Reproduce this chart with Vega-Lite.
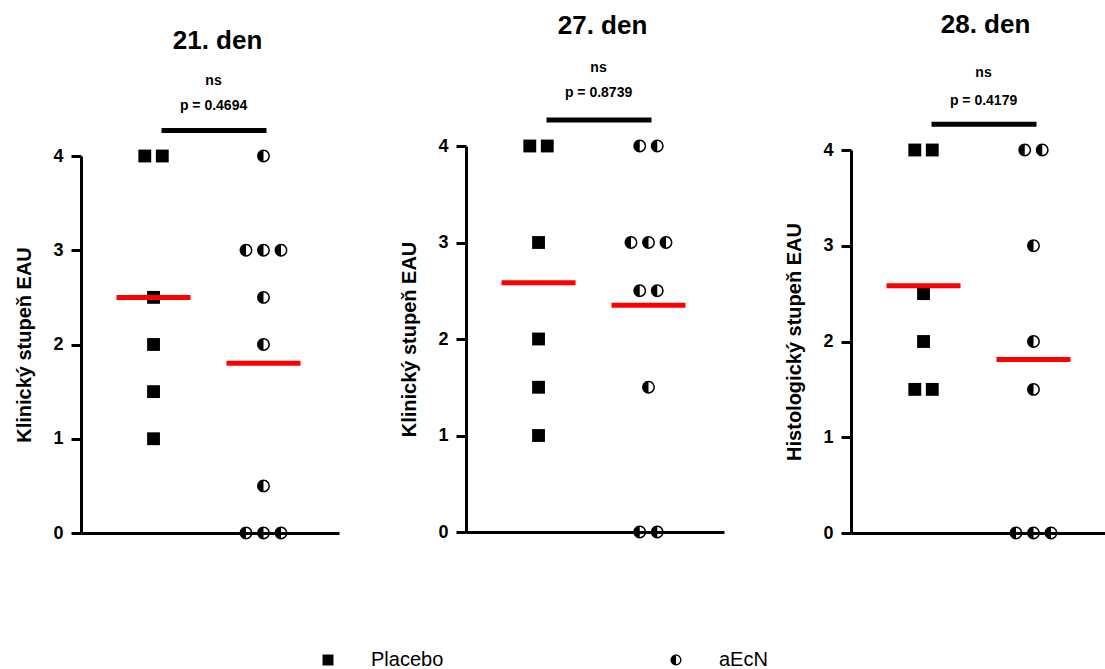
{
  "$schema": "https://vega.github.io/schema/vega-lite/v6.json",
  "background": "white",
  "padding": {"left": 14, "top": 11, "right": 0, "bottom": 0},
  "config": {
    "font": "Liberation Sans",
    "view": {"stroke": null},
    "axisY": {"domainColor": "black", "domainWidth": 3, "tickColor": "black", "tickWidth": 3, "tickSize": 10, "labelPadding": 8, "labelFontSize": 18, "labelFontWeight": "bold", "labelColor": "black", "labelFont": "Liberation Sans", "titleFontSize": 20, "titleFontWeight": "bold", "titleColor": "black", "titleFont": "Liberation Sans", "titlePadding": 18, "grid": false, "format": "d"},
    "axisX": {"domainColor": "black", "domainWidth": 3, "ticks": false, "labels": false, "title": null, "grid": false},
    "legend": {"labelFont": "Liberation Sans", "labelFontSize": 20, "labelColor": "black", "symbolSize": 120, "symbolFillColor": "black", "symbolStrokeWidth": 0, "symbolOpacity": 1, "labelOffset": 33, "columnPadding": 222, "padding": 0}
  },
  "datasets": {
    "pts": [
      {"day": "21", "group": "Placebo", "score": 4, "slot": "L1"},
      {"day": "21", "group": "Placebo", "score": 4, "slot": "R1"},
      {"day": "21", "group": "Placebo", "score": 2.5, "slot": "C"},
      {"day": "21", "group": "Placebo", "score": 2, "slot": "C"},
      {"day": "21", "group": "Placebo", "score": 1.5, "slot": "C"},
      {"day": "21", "group": "Placebo", "score": 1, "slot": "C"},
      {"day": "21", "group": "aEcN", "score": 4, "slot": "C"},
      {"day": "21", "group": "aEcN", "score": 3, "slot": "L2"},
      {"day": "21", "group": "aEcN", "score": 3, "slot": "C"},
      {"day": "21", "group": "aEcN", "score": 3, "slot": "R2"},
      {"day": "21", "group": "aEcN", "score": 2.5, "slot": "C"},
      {"day": "21", "group": "aEcN", "score": 2, "slot": "C"},
      {"day": "21", "group": "aEcN", "score": 0.5, "slot": "C"},
      {"day": "21", "group": "aEcN", "score": 0, "slot": "L2"},
      {"day": "21", "group": "aEcN", "score": 0, "slot": "C"},
      {"day": "21", "group": "aEcN", "score": 0, "slot": "R2"},
      {"day": "27", "group": "Placebo", "score": 4, "slot": "L1"},
      {"day": "27", "group": "Placebo", "score": 4, "slot": "R1"},
      {"day": "27", "group": "Placebo", "score": 3, "slot": "C"},
      {"day": "27", "group": "Placebo", "score": 2, "slot": "C"},
      {"day": "27", "group": "Placebo", "score": 1.5, "slot": "C"},
      {"day": "27", "group": "Placebo", "score": 1, "slot": "C"},
      {"day": "27", "group": "aEcN", "score": 4, "slot": "L1"},
      {"day": "27", "group": "aEcN", "score": 4, "slot": "R1"},
      {"day": "27", "group": "aEcN", "score": 3, "slot": "L2"},
      {"day": "27", "group": "aEcN", "score": 3, "slot": "C"},
      {"day": "27", "group": "aEcN", "score": 3, "slot": "R2"},
      {"day": "27", "group": "aEcN", "score": 2.5, "slot": "L1"},
      {"day": "27", "group": "aEcN", "score": 2.5, "slot": "R1"},
      {"day": "27", "group": "aEcN", "score": 1.5, "slot": "C"},
      {"day": "27", "group": "aEcN", "score": 0, "slot": "L1"},
      {"day": "27", "group": "aEcN", "score": 0, "slot": "R1"},
      {"day": "28", "group": "Placebo", "score": 4, "slot": "L1"},
      {"day": "28", "group": "Placebo", "score": 4, "slot": "R1"},
      {"day": "28", "group": "Placebo", "score": 2.5, "slot": "C"},
      {"day": "28", "group": "Placebo", "score": 2, "slot": "C"},
      {"day": "28", "group": "Placebo", "score": 1.5, "slot": "L1"},
      {"day": "28", "group": "Placebo", "score": 1.5, "slot": "R1"},
      {"day": "28", "group": "aEcN", "score": 4, "slot": "L1"},
      {"day": "28", "group": "aEcN", "score": 4, "slot": "R1"},
      {"day": "28", "group": "aEcN", "score": 3, "slot": "C"},
      {"day": "28", "group": "aEcN", "score": 2, "slot": "C"},
      {"day": "28", "group": "aEcN", "score": 1.5, "slot": "C"},
      {"day": "28", "group": "aEcN", "score": 0, "slot": "L2"},
      {"day": "28", "group": "aEcN", "score": 0, "slot": "C"},
      {"day": "28", "group": "aEcN", "score": 0, "slot": "R2"}
    ],
    "notes": [
      {"day": "21", "title": "21. den", "sig": "ns", "p": "p = 0.4694"},
      {"day": "27", "title": "27. den", "sig": "ns", "p": "p = 0.8739"},
      {"day": "28", "title": "28. den", "sig": "ns", "p": "p = 0.4179"}
    ]
  },
  "spacing": 60,
  "resolve": {"scale": {"x": "independent", "y": "independent", "xOffset": "independent", "shape": "shared"}, "legend": {"shape": "shared"}},
  "hconcat": [
    {
      "width": 258, "height": 400,
      "encoding": {"x": {"field": "group", "type": "nominal", "scale": {"type": "point", "domain": ["Placebo", "aEcN"], "padding": 0.673, "align": 0.49}}},
      "layer": [
        {"data": {"name": "pts"}, "transform": [{"filter": "datum.day === '21'"}],
         "mark": {"type": "point", "filled": true, "fill": "black", "opacity": 1, "size": 165, "strokeWidth": 0},
         "encoding": {
           "y": {"field": "score", "type": "quantitative", "scale": {"domain": [0, 4], "range": [400, 23], "nice": false}, "axis": {"title": "Klinický stupeň EAU", "values": [0, 1, 2, 3, 4]}},
           "xOffset": {"field": "slot", "type": "nominal", "scale": {"type": "point", "domain": ["L2", "L1", "C", "R1", "R2"], "range": [-17.5, 17.5], "padding": 0}},
           "shape": {"field": "group", "type": "nominal", "scale": {"domain": ["Placebo", "aEcN"], "range": ["square", "M1,0A1,1,0,1,1,-1,0A1,1,0,1,1,1,0ZM0.76,0A0.76,0.76,0,1,0,-0.76,0A0.76,0.76,0,1,0,0.76,0ZM0,1A1,1,0,0,1,0,-1Z"]},
             "legend": {"title": null, "orient": "none", "legendX": 237, "legendY": 517, "direction": "horizontal"}}
         }},
        {"data": {"name": "pts"}, "transform": [{"filter": "datum.day === '21'"}],
         "mark": {"type": "tick", "color": "#ff0000", "thickness": 5, "size": 74, "opacity": 1},
         "encoding": {"y": {"aggregate": "mean", "field": "score", "type": "quantitative"}}},
        {"data": {"name": "notes"}, "transform": [{"filter": "datum.day === '21'"}],
         "mark": {"type": "rule", "color": "black", "strokeWidth": 5, "xOffset": 8, "x2Offset": 3},
         "encoding": {"x": {"datum": "Placebo"}, "x2": {"datum": "aEcN"}, "y": {"datum": 4.27}}},
        {"data": {"name": "notes"}, "transform": [{"filter": "datum.day === '21'"}],
         "mark": {"type": "text", "fontSize": 14, "fontWeight": "bold", "color": "black", "dx": 60, "baseline": "middle"},
         "encoding": {"x": {"datum": "Placebo"}, "y": {"datum": 4.53}, "text": {"field": "p"}}},
        {"data": {"name": "notes"}, "transform": [{"filter": "datum.day === '21'"}],
         "mark": {"type": "text", "fontSize": 14, "fontWeight": "bold", "color": "black", "dx": 60, "baseline": "middle"},
         "encoding": {"x": {"datum": "Placebo"}, "y": {"datum": 4.8}, "text": {"field": "sig"}}},
        {"data": {"name": "notes"}, "transform": [{"filter": "datum.day === '21'"}],
         "mark": {"type": "text", "fontSize": 26, "fontWeight": "bold", "color": "black", "dx": 64, "baseline": "middle"},
         "encoding": {"x": {"datum": "Placebo"}, "y": {"datum": 5.22}, "text": {"field": "title"}}}
      ]
    },
    {
      "width": 258, "height": 399,
      "encoding": {"x": {"field": "group", "type": "nominal", "scale": {"type": "point", "domain": ["Placebo", "aEcN"], "padding": 0.673, "align": 0.49}}},
      "layer": [
        {"data": {"name": "pts"}, "transform": [{"filter": "datum.day === '27'"}],
         "mark": {"type": "point", "filled": true, "fill": "black", "opacity": 1, "size": 165, "strokeWidth": 0},
         "encoding": {
           "y": {"field": "score", "type": "quantitative", "scale": {"domain": [0, 4], "range": [399, 13], "nice": false}, "axis": {"title": "Klinický stupeň EAU", "values": [0, 1, 2, 3, 4]}},
           "xOffset": {"field": "slot", "type": "nominal", "scale": {"type": "point", "domain": ["L2", "L1", "C", "R1", "R2"], "range": [-17.5, 17.5], "padding": 0}},
           "shape": {"field": "group", "type": "nominal", "scale": {"domain": ["Placebo", "aEcN"], "range": ["square", "M1,0A1,1,0,1,1,-1,0A1,1,0,1,1,1,0ZM0.76,0A0.76,0.76,0,1,0,-0.76,0A0.76,0.76,0,1,0,0.76,0ZM0,1A1,1,0,0,1,0,-1Z"]},
             "legend": {"title": null, "orient": "none", "legendX": 237, "legendY": 517, "direction": "horizontal"}}
         }},
        {"data": {"name": "pts"}, "transform": [{"filter": "datum.day === '27'"}],
         "mark": {"type": "tick", "color": "#ff0000", "thickness": 5, "size": 74, "opacity": 1},
         "encoding": {"y": {"aggregate": "mean", "field": "score", "type": "quantitative"}}},
        {"data": {"name": "notes"}, "transform": [{"filter": "datum.day === '27'"}],
         "mark": {"type": "rule", "color": "black", "strokeWidth": 5, "xOffset": 8, "x2Offset": 3},
         "encoding": {"x": {"datum": "Placebo"}, "x2": {"datum": "aEcN"}, "y": {"datum": 4.27}}},
        {"data": {"name": "notes"}, "transform": [{"filter": "datum.day === '27'"}],
         "mark": {"type": "text", "fontSize": 14, "fontWeight": "bold", "color": "black", "dx": 60, "baseline": "middle"},
         "encoding": {"x": {"datum": "Placebo"}, "y": {"datum": 4.55}, "text": {"field": "p"}}},
        {"data": {"name": "notes"}, "transform": [{"filter": "datum.day === '27'"}],
         "mark": {"type": "text", "fontSize": 14, "fontWeight": "bold", "color": "black", "dx": 60, "baseline": "middle"},
         "encoding": {"x": {"datum": "Placebo"}, "y": {"datum": 4.81}, "text": {"field": "sig"}}},
        {"data": {"name": "notes"}, "transform": [{"filter": "datum.day === '27'"}],
         "mark": {"type": "text", "fontSize": 26, "fontWeight": "bold", "color": "black", "dx": 64, "baseline": "middle"},
         "encoding": {"x": {"datum": "Placebo"}, "y": {"datum": 5.24}, "text": {"field": "title"}}}
      ]
    },
    {
      "width": 258, "height": 400,
      "encoding": {"x": {"field": "group", "type": "nominal", "scale": {"type": "point", "domain": ["Placebo", "aEcN"], "padding": 0.673, "align": 0.49}}},
      "layer": [
        {"data": {"name": "pts"}, "transform": [{"filter": "datum.day === '28'"}],
         "mark": {"type": "point", "filled": true, "fill": "black", "opacity": 1, "size": 165, "strokeWidth": 0},
         "encoding": {
           "y": {"field": "score", "type": "quantitative", "scale": {"domain": [0, 4], "range": [400, 17], "nice": false}, "axis": {"title": "Histologický stupeň EAU", "values": [0, 1, 2, 3, 4]}},
           "xOffset": {"field": "slot", "type": "nominal", "scale": {"type": "point", "domain": ["L2", "L1", "C", "R1", "R2"], "range": [-17.5, 17.5], "padding": 0}},
           "shape": {"field": "group", "type": "nominal", "scale": {"domain": ["Placebo", "aEcN"], "range": ["square", "M1,0A1,1,0,1,1,-1,0A1,1,0,1,1,1,0ZM0.76,0A0.76,0.76,0,1,0,-0.76,0A0.76,0.76,0,1,0,0.76,0ZM0,1A1,1,0,0,1,0,-1Z"]},
             "legend": {"title": null, "orient": "none", "legendX": 237, "legendY": 517, "direction": "horizontal"}}
         }},
        {"data": {"name": "pts"}, "transform": [{"filter": "datum.day === '28'"}],
         "mark": {"type": "tick", "color": "#ff0000", "thickness": 5, "size": 74, "opacity": 1},
         "encoding": {"y": {"aggregate": "mean", "field": "score", "type": "quantitative"}}},
        {"data": {"name": "notes"}, "transform": [{"filter": "datum.day === '28'"}],
         "mark": {"type": "rule", "color": "black", "strokeWidth": 5, "xOffset": 8, "x2Offset": 3},
         "encoding": {"x": {"datum": "Placebo"}, "x2": {"datum": "aEcN"}, "y": {"datum": 4.27}}},
        {"data": {"name": "notes"}, "transform": [{"filter": "datum.day === '28'"}],
         "mark": {"type": "text", "fontSize": 14, "fontWeight": "bold", "color": "black", "dx": 60, "baseline": "middle"},
         "encoding": {"x": {"datum": "Placebo"}, "y": {"datum": 4.51}, "text": {"field": "p"}}},
        {"data": {"name": "notes"}, "transform": [{"filter": "datum.day === '28'"}],
         "mark": {"type": "text", "fontSize": 14, "fontWeight": "bold", "color": "black", "dx": 60, "baseline": "middle"},
         "encoding": {"x": {"datum": "Placebo"}, "y": {"datum": 4.8}, "text": {"field": "sig"}}},
        {"data": {"name": "notes"}, "transform": [{"filter": "datum.day === '28'"}],
         "mark": {"type": "text", "fontSize": 26, "fontWeight": "bold", "color": "black", "dx": 62, "baseline": "middle"},
         "encoding": {"x": {"datum": "Placebo"}, "y": {"datum": 5.31}, "text": {"field": "title"}}}
      ]
    }
  ]
}
